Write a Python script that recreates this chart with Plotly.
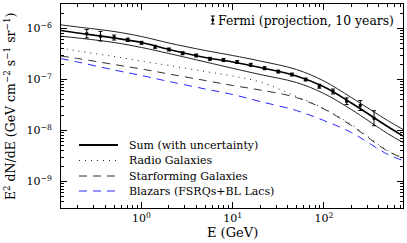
import numpy as np
import plotly.graph_objects as go

# ---- data ----
E_curve = [0.13, 0.2, 0.5, 1, 2, 5, 10, 20, 50, 100, 200, 500, 740]
sum_mid = [9.13e-7, 8.15e-7, 6.51e-7, 5.31e-7, 3.87e-7, 2.70e-7, 2.20e-7, 1.72e-7,
           1.17e-7, 7.19e-8, 3.46e-8, 1.197e-8, 7.79e-9]
sum_up = [1.181e-6, 1.069e-6, 8.72e-7, 6.96e-7, 5.19e-7, 3.70e-7, 2.953e-7, 2.303e-7,
          1.569e-7, 9.34e-8, 4.43e-8, 1.57e-8, 1.045e-8]
sum_lo = [7.06e-7, 6.51e-7, 5.31e-7, 4.24e-7, 3.23e-7, 2.212e-7, 1.656e-7, 1.252e-7,
          8.72e-8, 5.31e-8, 2.578e-8, 8.72e-9, 5.81e-9]
radio = [4.105e-7, 3.617e-7, 2.822e-7, 2.303e-7, 1.879e-7, 1.434e-7, 1.170e-7, 8.925e-8,
         4.64e-8, 2.70e-8, 1.31e-8, 4.05e-9, 2.886e-9]
starforming = [2.886e-7, 2.578e-7, 1.966e-7, 1.605e-7, 1.281e-7, 9.55e-8, 7.62e-8, 6.22e-8,
               4.43e-8, 2.64e-8, 1.252e-8, 3.95e-9, 2.886e-9]
blazars = [2.578e-7, 2.202e-7, 1.534e-7, 1.197e-7, 9.13e-8, 6.51e-8, 5.07e-8, 3.70e-8,
           2.46e-8, 1.57e-8, 9.13e-9, 3.41e-9, 2.578e-9]

E_fermi = [0.251, 0.355, 0.501, 0.708, 1.0, 1.41, 2.0, 2.82, 3.98, 5.62, 7.94, 11.2,
           15.8, 22.4, 31.6, 44.7, 63.1, 89.1, 126, 178, 251, 355]
F_fermi = [7.87e-7, 7.06e-7, 6.65e-7, 6.0e-7, 5.24e-7, 4.37e-7, 3.87e-7, 3.27e-7,
           2.95e-7, 2.54e-7, 2.41e-7, 2.20e-7, 1.94e-7, 1.66e-7, 1.43e-7, 1.25e-7,
           1.0e-7, 7.38e-8, 5.81e-8, 3.75e-8, 3.09e-8, 1.74e-8]
err_dex = [0.082, 0.094, 0.049, 0.033, 0.029, 0.029, 0.029, 0.029, 0.029, 0.029, 0.029,
           0.029, 0.029, 0.029, 0.029, 0.029, 0.029, 0.039, 0.049, 0.065, 0.098, 0.147]

x_tickvals = [1, 10, 100]
x_ticktext = ["10<sup>0</sup>", "10<sup>1</sup>", "10<sup>2</sup>"]
y_tickvals = [1e-9, 1e-8, 1e-7, 1e-6]
y_ticktext = ["10<sup>−9</sup>", "10<sup>−8</sup>", "10<sup>−7</sup>", "10<sup>−6</sup>"]

legend_labels = ["Sum (with uncertainty)", "Radio Galaxies", "Starforming Galaxies",
                 "Blazars (FSRQs+BL Lacs)"]
fermi_label = "Fermi (projection, 10 years)"
x_title = "E (GeV)"
y_title = "E<sup>2</sup> dN/dE (GeV cm<sup>−2</sup> s<sup>−1</sup> sr<sup>−1</sup>)"

FONT = "DejaVu Serif"
BLUE = "rgb(40,40,255)"

F = np.array(F_fermi)
d = np.array(err_dex)
err_plus = F * (10 ** d - 1)
err_minus = F * (1 - 10 ** (-d))

fig = go.Figure()
fig.add_trace(go.Scatter(x=E_curve, y=blazars, mode="lines", line_shape="spline",
                         line=dict(color=BLUE, width=1, dash="8px,6px")))
fig.add_trace(go.Scatter(x=E_curve, y=starforming, mode="lines", line_shape="spline",
                         line=dict(color="#333333", width=1, dash="8px,6px")))
fig.add_trace(go.Scatter(x=E_curve, y=radio, mode="lines", line_shape="spline",
                         line=dict(color="#222222", width=1, dash="1px,5px")))
fig.add_trace(go.Scatter(x=E_curve, y=sum_up, mode="lines", line_shape="spline",
                         line=dict(color="#222222", width=1)))
fig.add_trace(go.Scatter(x=E_curve, y=sum_lo, mode="lines", line_shape="spline",
                         line=dict(color="#222222", width=1)))
fig.add_trace(go.Scatter(x=E_curve, y=sum_mid, mode="lines", line_shape="spline",
                         line=dict(color="black", width=1.6)))
fig.add_trace(go.Scatter(x=E_fermi, y=F_fermi, mode="markers",
                         marker=dict(symbol="square", size=3, color="black"),
                         error_y=dict(type="data", symmetric=False, array=err_plus,
                                      arrayminus=err_minus, color="black",
                                      thickness=1, width=2)))

# plot-area geometry (pixels) for layout-only decorations
L, R, T, B = 61, 403.5, 4, 208
W, H = R - L, B - T


def px(x):
    return (x - L) / W


def py(y):
    return (B - y) / H


shapes = []
annotations = []
leg_rows = [145, 160.5, 176, 191]
leg_styles = [dict(color="black", width=2), dict(color="#222222", width=1, dash="1px,5px"),
              dict(color="#333333", width=1, dash="8px,6px"), dict(color=BLUE, width=1, dash="8px,6px")]
for yy, st, lab in zip(leg_rows, leg_styles, legend_labels):
    shapes.append(dict(type="line", xref="paper", yref="paper", x0=px(79), x1=px(118),
                       y0=py(yy), y1=py(yy), line=st))
    annotations.append(dict(xref="paper", yref="paper", x=px(127), y=py(yy), text=lab,
                            showarrow=False, xanchor="left", yanchor="middle",
                            font=dict(family=FONT, size=11, color="black")))

# Fermi key: error bar symbol
fx = 213
shapes.append(dict(type="line", xref="paper", yref="paper", x0=px(fx), x1=px(fx),
                   y0=py(16), y1=py(24), line=dict(color="black", width=1)))
for yy in (16, 24):
    shapes.append(dict(type="line", xref="paper", yref="paper", x0=px(fx - 2), x1=px(fx + 2),
                       y0=py(yy), y1=py(yy), line=dict(color="black", width=1)))
shapes.append(dict(type="rect", xref="paper", yref="paper", x0=px(fx - 1.3), x1=px(fx + 1.3),
                   y0=py(21.3), y1=py(18.7), line=dict(width=0), fillcolor="black"))
annotations.append(dict(xref="paper", yref="paper", x=px(216), y=py(20), text=fermi_label,
                        showarrow=False, xanchor="left", yanchor="middle",
                        font=dict(family=FONT, size=12.4, color="black")))

annotations.append(dict(xref="paper", yref="paper", x=px(233), y=py(232), text=x_title,
                        showarrow=False, xanchor="center", yanchor="middle",
                        font=dict(family=FONT, size=13, color="black")))
annotations.append(dict(xref="paper", yref="paper", x=px(10), y=py(107), text=y_title,
                        showarrow=False, xanchor="center", yanchor="middle", textangle=-90,
                        font=dict(family=FONT, size=12.5, color="black")))

x_minor = [m * 10 ** k for k in range(-1, 3) for m in range(2, 10)]
y_minor = [m * 10 ** k for k in range(-10, -5) for m in range(2, 10)]

fig.update_layout(
    width=407, height=243,
    margin=dict(l=L, r=407 - R, t=T, b=243 - B),
    paper_bgcolor="white", plot_bgcolor="white",
    showlegend=False,
    shapes=shapes, annotations=annotations,
    xaxis=dict(type="log", range=[np.log10(0.131), np.log10(738)],
               showline=True, linecolor="black", linewidth=1, mirror="ticks",
               ticks="inside", ticklen=6, tickwidth=1, tickcolor="black",
               tickvals=x_tickvals, ticktext=x_ticktext, showgrid=False, zeroline=False,
               tickfont=dict(family=FONT, size=11, color="black"),
               minor=dict(ticks="inside", ticklen=3, tickwidth=1, tickcolor="black",
                          tickvals=x_minor, showgrid=False)),
    yaxis=dict(type="log", range=[-9.52, -5.52],
               showline=True, linecolor="black", linewidth=1, mirror="ticks",
               ticks="inside", ticklen=6, tickwidth=1, tickcolor="black",
               tickvals=y_tickvals, ticktext=y_ticktext, showgrid=False, zeroline=False,
               ticklabelstandoff=6,
               tickfont=dict(family=FONT, size=11, color="black"),
               minor=dict(ticks="inside", ticklen=3, tickwidth=1, tickcolor="black",
                          tickvals=y_minor, showgrid=False)),
)

fig.write_html("out.html", config={"displayModeBar": False},
               post_script="document.body.style.margin='0';")
